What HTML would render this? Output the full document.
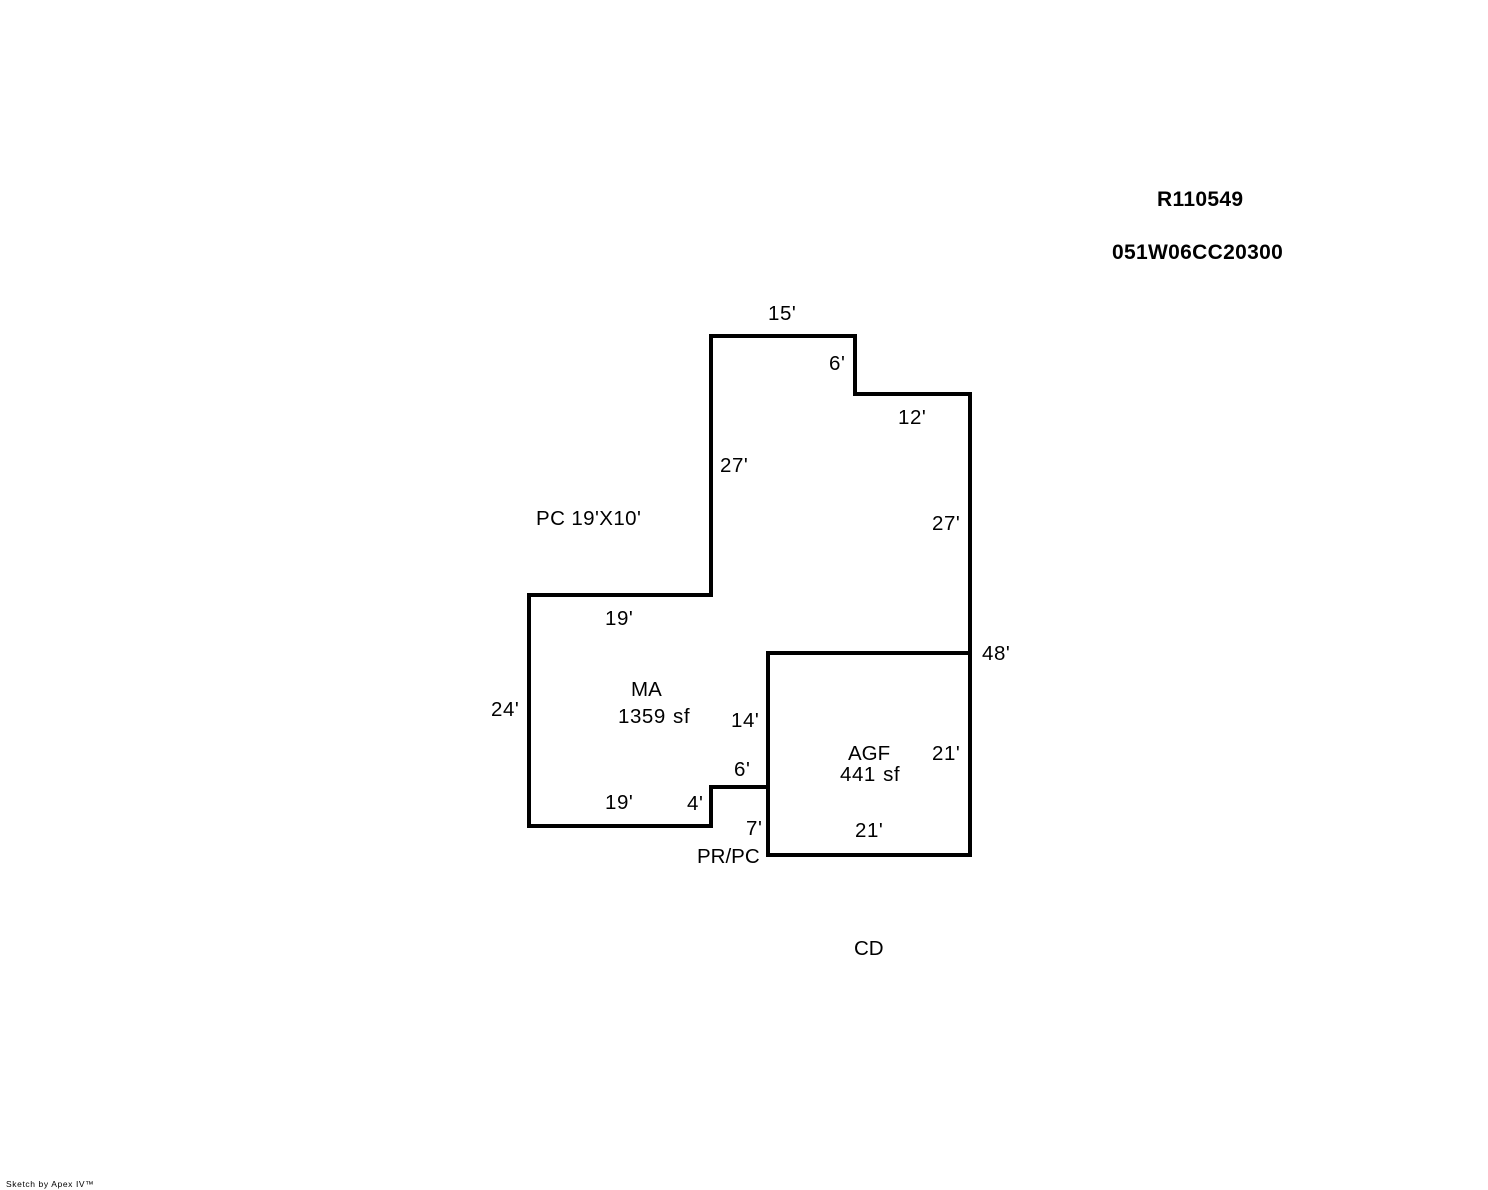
<!DOCTYPE html>
<html>
<head>
<meta charset="utf-8">
<style>
html,body{margin:0;padding:0;background:#fff;width:1488px;height:1190px;overflow:hidden}
svg{display:block}
text{font-family:"Liberation Sans",Arial,sans-serif;font-size:20.5px;fill:#000}
.d{letter-spacing:.55px;word-spacing:1px}
.p{letter-spacing:.4px}
.b{font-weight:bold;font-size:21px;letter-spacing:.32px}
.s{font-size:8.5px;letter-spacing:.6px}
</style>
</head>
<body>
<svg width="1488" height="1190" viewBox="0 0 1488 1190" xmlns="http://www.w3.org/2000/svg">
<rect width="1488" height="1190" fill="#fff"/>
<g fill="none" stroke="#000" stroke-width="4" stroke-linecap="square" stroke-linejoin="miter">
<path d="M711 336H855V394H970V855H768V787H711V826H529V595H711Z"/>
<path d="M768 787V653H970"/>
</g>
<text class="b" x="1157" y="206">R110549</text>
<text class="b" x="1112" y="259">051W06CC20300</text>
<text class="d" x="768" y="320">15'</text>
<text class="d" x="829" y="370">6'</text>
<text class="d" x="898" y="424">12'</text>
<text class="d" x="720" y="472">27'</text>
<text class="d" x="932" y="530">27'</text>
<text class="p" x="536" y="525">PC 19'X10'</text>
<text class="d" x="605" y="625">19'</text>
<text class="d" x="982" y="660">48'</text>
<text x="631" y="696">MA</text>
<text class="d" x="618" y="723">1359 sf</text>
<text class="d" x="491" y="716">24'</text>
<text class="d" x="731" y="727">14'</text>
<text x="848" y="760">AGF</text>
<text class="d" x="840" y="781">441 sf</text>
<text class="d" x="932" y="760">21'</text>
<text class="d" x="734" y="776">6'</text>
<text class="d" x="605" y="809">19'</text>
<text class="d" x="687" y="810">4'</text>
<text class="d" x="746" y="835">7'</text>
<text class="d" x="855" y="837">21'</text>
<text x="697" y="863">PR/PC</text>
<text x="854" y="955">CD</text>
<text class="s" x="6" y="1187">Sketch by Apex IV™</text>
</svg>
</body>
</html>
